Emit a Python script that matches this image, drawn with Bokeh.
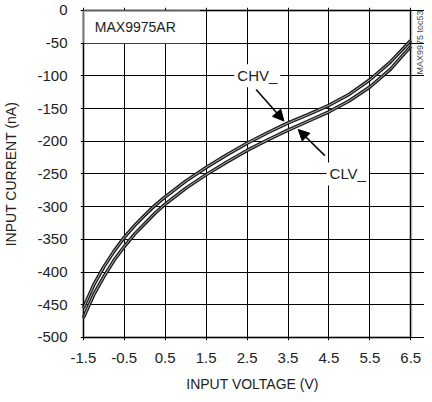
from bokeh.plotting import figure
from bokeh.models import (FixedTicker, Label, Arrow, NormalHead, BoxAnnotation, Range1d)
from bokeh.embed import file_html
from bokeh.resources import INLINE

# ---- data ----
voltage = [-1.5, -1.25, -1.0, -0.75, -0.5, -0.25, 0.0, 0.25, 0.5, 1.0, 1.5, 2.0,
           2.5, 3.0, 3.5, 4.0, 4.5, 5.0, 5.5, 6.0, 6.5]
chv_current = [-455, -420, -392, -368, -347, -329, -313, -298, -285, -261, -240, -221,
               -203, -187, -172, -159, -145, -128, -106, -79, -46]
clv_current = [-470, -435, -407, -382, -361, -342, -326, -310, -296, -272, -251, -232,
               -214, -198, -183, -169, -155, -138, -117, -90, -55]

x_ticks = [-1.5, -0.5, 0.5, 1.5, 2.5, 3.5, 4.5, 5.5, 6.5]
x_tick_labels = ["-1.5", "-0.5", "0.5", "1.5", "2.5", "3.5", "4.5", "5.5", "6.5"]
y_ticks = [0, -50, -100, -150, -200, -250, -300, -350, -400, -450, -500]
y_tick_labels = ["0", "-50", "-100", "-150", "-200", "-250", "-300", "-350", "-400", "-450", "-500"]

X_MIN, X_MAX = -1.5, 6.5
Y_MIN, Y_MAX = -500, 0

FONT = "Liberation Sans"

# the drawing frame is a little larger than the data box so the figure code on the right
# (which Bokeh would otherwise clip) and the heavy box border stay visible
p = figure(width=424, height=394, output_backend="svg", toolbar_location=None,
           x_range=Range1d(-1.57, 6.835), y_range=Range1d(-504.6, 4.5),
           min_border_left=77, min_border_right=0, min_border_top=7, min_border_bottom=54)

p.background_fill_color = "white"
p.border_fill_color = "white"
p.outline_line_color = None

for ax in (p.xaxis[0], p.yaxis[0]):
    ax.axis_line_color = None
    ax.major_tick_line_color = None
    ax.minor_tick_line_color = None
    ax.major_tick_out = 0
    ax.major_tick_in = 0
    ax.minor_tick_out = 0
    ax.minor_tick_in = 0
    ax.major_label_text_font = FONT
    ax.major_label_text_font_size = "15px"
    ax.major_label_text_color = "#222222"
    ax.axis_label_text_font = FONT
    ax.axis_label_text_font_size = "14px"
    ax.axis_label_text_font_style = "normal"
    ax.axis_label_text_color = "#222222"

p.xaxis.ticker = FixedTicker(ticks=x_ticks)
p.xaxis.major_label_overrides = {t: s for t, s in zip(x_ticks, x_tick_labels)}
p.yaxis.ticker = FixedTicker(ticks=y_ticks)
p.yaxis.major_label_overrides = {t: s for t, s in zip(y_ticks, y_tick_labels)}
p.xaxis.axis_label = "INPUT VOLTAGE (V)"
p.yaxis.axis_label = "INPUT CURRENT (nA)"
p.xaxis.major_label_standoff = 12
p.yaxis.major_label_standoff = 13
p.xaxis.axis_label_standoff = 10
p.yaxis.axis_label_standoff = 15

p.xgrid.ticker = FixedTicker(ticks=x_ticks)
p.ygrid.ticker = FixedTicker(ticks=y_ticks)
p.xgrid.bounds = (Y_MIN, Y_MAX)
p.ygrid.bounds = (X_MIN, X_MAX)
p.grid.grid_line_color = "black"
p.grid.grid_line_width = 1
p.grid.grid_line_alpha = 1

# curves (dark tube with a light core, like the reference trace)
for cur in (chv_current, clv_current):
    p.line(voltage, cur, line_color="#1e1e1e", line_width=3.5)
    p.line(voltage, cur, line_color="#d0d0d0", line_width=0.8)

# title box in the upper-left cell
p.add_layout(BoxAnnotation(left=X_MIN, right=1.35, top=Y_MAX, bottom=-50,
                           fill_color="white", fill_alpha=1, line_color=None, level="overlay"))
p.add_layout(Label(x=-1.22, y=-25, text="MAX9975AR", text_font=FONT, text_font_size="14px",
                   text_color="#222222", text_baseline="middle", level="overlay"))

# heavy box around the data area
p.add_layout(BoxAnnotation(left=X_MIN, right=X_MAX, top=Y_MAX, bottom=Y_MIN,
                           fill_alpha=0, line_color="black", line_width=3, level="overlay"))

# CHV_ annotation
p.add_layout(Label(x=2.75, y=-100, text="CHV_", text_font=FONT, text_font_size="15px",
                   text_color="#222222", text_align="center", text_baseline="middle",
                   background_fill_color="white", padding=3, level="overlay"))
p.add_layout(Arrow(x_start=2.72, y_start=-121, x_end=3.40, y_end=-169,
                   line_color="black", line_width=1.5,
                   end=NormalHead(size=11, fill_color="black", line_color="black")))

# CLV_ annotation
p.add_layout(Label(x=4.96, y=-250, text="CLV_", text_font=FONT, text_font_size="15px",
                   text_color="#222222", text_align="center", text_baseline="middle",
                   background_fill_color="white", padding=3, level="overlay"))
p.add_layout(Arrow(x_start=4.40, y_start=-222, x_end=3.75, y_end=-182,
                   line_color="black", line_width=1.5,
                   end=NormalHead(size=11, fill_color="black", line_color="black")))

# figure code on the right of the box
p.add_layout(Label(x=6.72, y=-98, text="MAX9975 toc53",
                   angle=90, angle_units="deg", text_font=FONT, text_font_size="9px",
                   text_color="#444444", text_align="left", text_baseline="middle"))

open("out.html", "w").write(file_html(p, INLINE))
